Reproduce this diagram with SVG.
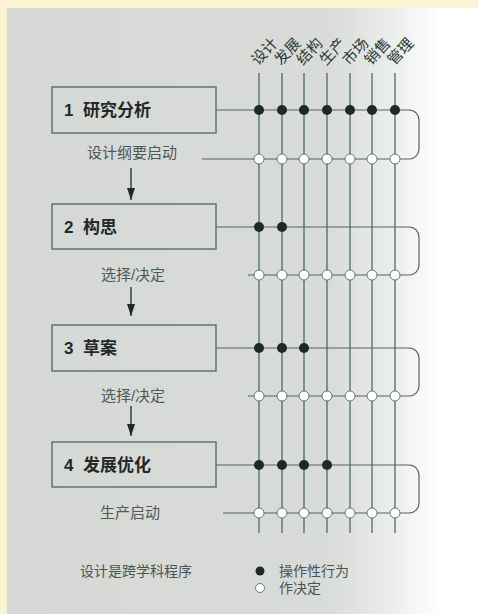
<svg xmlns="http://www.w3.org/2000/svg" width="478" height="614" viewBox="0 0 478 614">
<defs>
<linearGradient id="bg" x1="7" y1="0" x2="478" y2="0" gradientUnits="userSpaceOnUse">
<stop offset="0" stop-color="#d6d8d5"/>
<stop offset="0.68" stop-color="#d9dbd8"/>
<stop offset="0.82" stop-color="#eceeec"/>
<stop offset="0.92" stop-color="#ffffff"/>
<stop offset="1" stop-color="#ffffff"/>
</linearGradient>
<marker id="ah" viewBox="0 0 12 8" refX="12" refY="4" markerWidth="12" markerHeight="8" markerUnits="userSpaceOnUse" orient="auto">
<path d="M0,0 L12,4 L0,8 Z" fill="#1e2a28"/>
</marker>
<style>
.box{fill:none;stroke:#4f6662;stroke-width:1.3}
.bt{font-family:"Liberation Sans","Noto Sans CJK SC",sans-serif;font-weight:bold;font-size:17px;fill:#1f2a28}
.lab{font-family:"Liberation Sans","Noto Sans CJK SC",sans-serif;font-size:15px;fill:#4f5957}
.col{font-family:"Noto Sans CJK SC",sans-serif;font-size:15px;fill:#2f3a38}
.leg{font-family:"Liberation Sans","Noto Sans CJK SC",sans-serif;font-size:14px;fill:#4a5552}
.vl{stroke:#4a6e66;stroke-width:1.3;fill:none}
.hl{stroke:#56625f;stroke-width:1.2;fill:none}
.arr{stroke:#1e2a28;stroke-width:1.3;fill:none}
.on{fill:#1b2927}
.off{fill:#ffffff;stroke:#4a5a56;stroke-width:0.8}
</style>
</defs>
<rect x="0" y="0" width="478" height="614" fill="#fcf3d2"/>
<rect x="7" y="8" width="471" height="606" fill="url(#bg)"/>

<g id="columns">
<g class="vl">
<line x1="259" y1="73" x2="259" y2="533"/>
<line x1="282" y1="73" x2="282" y2="533"/>
<line x1="304" y1="73" x2="304" y2="533"/>
<line x1="327" y1="73" x2="327" y2="533"/>
<line x1="350" y1="73" x2="350" y2="533"/>
<line x1="372" y1="73" x2="372" y2="533"/>
<line x1="395" y1="73" x2="395" y2="533"/>
</g>
<text class="col" transform="translate(258,66) rotate(-47)">设计</text>
<text class="col" transform="translate(281,66) rotate(-47)">发展</text>
<text class="col" transform="translate(303,66) rotate(-47)">结构</text>
<text class="col" transform="translate(326,66) rotate(-47)">生产</text>
<text class="col" transform="translate(349,66) rotate(-47)">市场</text>
<text class="col" transform="translate(371,66) rotate(-47)">销售</text>
<text class="col" transform="translate(394,66) rotate(-47)">管理</text>
</g>

<g id="connectors">
<path class="hl" d="M216,110 H409 A10,10 0 0 1 419,120 V149 A10,10 0 0 1 409,159 H202"/>
<path class="hl" d="M216,227 H409 A10,10 0 0 1 419,237 V265 A10,10 0 0 1 409,275 H248"/>
<path class="hl" d="M216,348 H409 A10,10 0 0 1 419,358 V386 A10,10 0 0 1 409,396 H248"/>
<path class="hl" d="M216,465 H409 A10,10 0 0 1 419,475 V503 A10,10 0 0 1 409,513 H223"/>
<line class="arr" x1="131" y1="168" x2="131" y2="200" marker-end="url(#ah)"/>
<line class="arr" x1="131" y1="287" x2="131" y2="316" marker-end="url(#ah)"/>
<line class="arr" x1="131" y1="406" x2="131" y2="436" marker-end="url(#ah)"/>
</g>

<g id="node1">
<rect class="box" x="52" y="87" width="164" height="46"/>
<text class="bt" y="116"><tspan x="64">1</tspan><tspan x="83">研究分析</tspan></text>
<text class="lab" x="132" y="158" text-anchor="middle">设计纲要启动</text>
</g>
<g id="node2">
<rect class="box" x="52" y="204" width="164" height="45"/>
<text class="bt" y="233"><tspan x="64">2</tspan><tspan x="83">构思</tspan></text>
<text class="lab" x="133" y="280" text-anchor="middle">选择/决定</text>
</g>
<g id="node3">
<rect class="box" x="52" y="325" width="164" height="46"/>
<text class="bt" y="354"><tspan x="64">3</tspan><tspan x="83">草案</tspan></text>
<text class="lab" x="133" y="401" text-anchor="middle">选择/决定</text>
</g>
<g id="node4">
<rect class="box" x="52" y="442" width="164" height="45"/>
<text class="bt" y="471"><tspan x="64">4</tspan><tspan x="83">发展优化</tspan></text>
<text class="lab" x="130" y="518" text-anchor="middle">生产启动</text>
</g>

<g id="dots">
<g class="on">
<circle cx="259" cy="110" r="5"/><circle cx="282" cy="110" r="5"/><circle cx="304" cy="110" r="5"/><circle cx="327" cy="110" r="5"/><circle cx="350" cy="110" r="5"/><circle cx="372" cy="110" r="5"/><circle cx="395" cy="110" r="5"/>
<circle cx="259" cy="227" r="5"/><circle cx="282" cy="227" r="5"/>
<circle cx="259" cy="348" r="5"/><circle cx="282" cy="348" r="5"/><circle cx="304" cy="348" r="5"/>
<circle cx="259" cy="465" r="5"/><circle cx="282" cy="465" r="5"/><circle cx="304" cy="465" r="5"/><circle cx="327" cy="465" r="5"/>
</g>
<g class="off">
<circle cx="259" cy="159" r="5"/><circle cx="282" cy="159" r="5"/><circle cx="304" cy="159" r="5"/><circle cx="327" cy="159" r="5"/><circle cx="350" cy="159" r="5"/><circle cx="372" cy="159" r="5"/><circle cx="395" cy="159" r="5"/>
<circle cx="259" cy="275" r="5"/><circle cx="282" cy="275" r="5"/><circle cx="304" cy="275" r="5"/><circle cx="327" cy="275" r="5"/><circle cx="350" cy="275" r="5"/><circle cx="372" cy="275" r="5"/><circle cx="395" cy="275" r="5"/>
<circle cx="259" cy="396" r="5"/><circle cx="282" cy="396" r="5"/><circle cx="304" cy="396" r="5"/><circle cx="327" cy="396" r="5"/><circle cx="350" cy="396" r="5"/><circle cx="372" cy="396" r="5"/><circle cx="395" cy="396" r="5"/>
<circle cx="259" cy="513" r="5"/><circle cx="282" cy="513" r="5"/><circle cx="304" cy="513" r="5"/><circle cx="327" cy="513" r="5"/><circle cx="350" cy="513" r="5"/><circle cx="372" cy="513" r="5"/><circle cx="395" cy="513" r="5"/>
</g>
</g>

<g id="legend">
<text class="leg" x="80" y="576">设计是跨学科程序</text>
<circle class="on" cx="260" cy="571" r="4.5"/>
<text class="leg" x="279" y="576">操作性行为</text>
<circle class="off" cx="260" cy="588" r="4.5"/>
<text class="leg" x="279" y="593">作决定</text>
</g>
</svg>
